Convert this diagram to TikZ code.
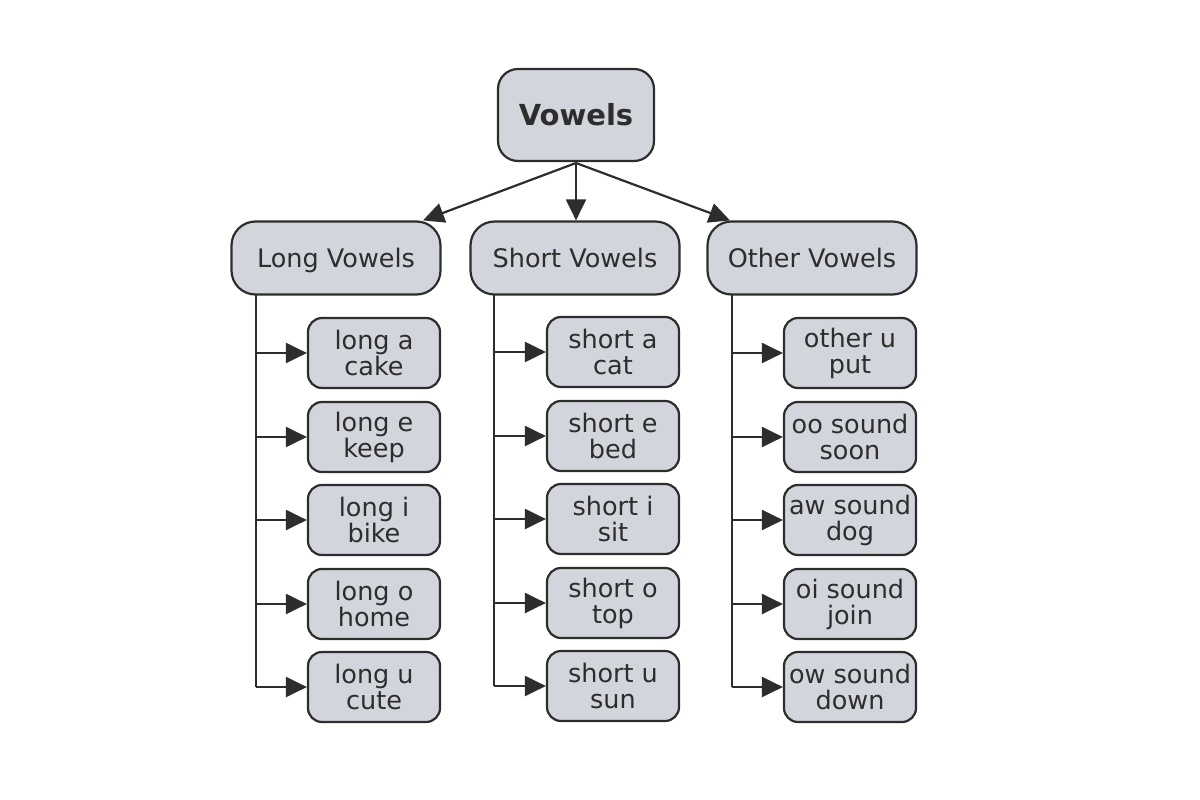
\documentclass[tikz,border=0pt]{standalone}
\usepackage{fontspec}
\setmainfont{DejaVu Sans}
\usetikzlibrary{arrows.meta}
\definecolor{boxfill}{RGB}{211,213,221}
\definecolor{ink}{RGB}{45,45,45}
\begin{document}
\begin{tikzpicture}[x=1pt,y=-1pt,
  every node/.style={inner sep=0pt,text=ink},
  topbox/.style={draw=ink,line width=2.2pt,fill=boxfill,rounded corners=20pt,minimum width=156pt,minimum height=92pt,font=\fontsize{29}{32}\selectfont\bfseries,text height=21pt,text depth=0pt},
  catbox/.style={draw=ink,line width=2.2pt,fill=boxfill,rounded corners=24pt,minimum width=209pt,minimum height=73pt,font=\fontsize{25.5}{28}\selectfont,text height=19pt,text depth=1pt},
  leafbox/.style={draw=ink,line width=2.2pt,fill=boxfill,rounded corners=14pt,minimum width=132pt,minimum height=70pt,align=center,font=\fontsize{25.5}{26}\selectfont},
  conn/.style={draw=ink,line width=2.2pt},
  arr/.style={conn,-{Triangle[length=21pt,width=20pt]}}
]
\useasboundingbox (0,0) rectangle (1200,800);
\node[topbox] (v) at (576,115) {Vowels};
\node[catbox] (lv) at (336,258) {Long Vowels};
\node[catbox] (sv) at (575,258) {Short Vowels};
\node[catbox] (ov) at (812,258) {Other Vowels};
\coordinate (vb) at (576,163);
\draw[arr] (vb) -- (lv.north east -| 423,222);
\draw[arr] (vb) -- (sv.north -| vb);
\draw[arr] (vb) -- (ov.north west -| 730,222);
% long column
\node[leafbox] (la) at (374,353) {long a\\cake};
\node[leafbox] (le) at (374,437) {long e\\keep};
\node[leafbox] (li) at (374,520) {long i\\bike};
\node[leafbox] (lo) at (374,604) {long o\\home};
\node[leafbox] (lu) at (374,687) {long u\\cute};
% short column
\node[leafbox] (sa) at (613,352) {short a\\cat};
\node[leafbox] (se) at (613,436) {short e\\bed};
\node[leafbox] (si) at (613,519) {short i\\sit};
\node[leafbox] (so) at (613,603) {short o\\top};
\node[leafbox] (su) at (613,686) {short u\\sun};
% other column
\node[leafbox] (ou) at (850,353) {other u\\put};
\node[leafbox] (oo) at (850,437) {oo sound\\soon};
\node[leafbox] (aw) at (850,520) {aw sound\\dog};
\node[leafbox] (oi) at (850,604) {oi sound\\join};
\node[leafbox] (ow) at (850,687) {ow sound\\down};
% trunks
\coordinate (lt) at (256,295);
\coordinate (st) at (494,295);
\coordinate (ot) at (732,295);
\draw[conn] (lt) -- (lt |- lu);
\draw[conn] (st) -- (st |- su);
\draw[conn] (ot) -- (ot |- ow);
\foreach \n in {la,le,li,lo,lu} \draw[arr] (lt |- \n) -- (\n.west);
\foreach \n in {sa,se,si,so,su} \draw[arr] (st |- \n) -- (\n.west);
\foreach \n in {ou,oo,aw,oi,ow} \draw[arr] (ot |- \n) -- (\n.west);
\end{tikzpicture}
\end{document}
